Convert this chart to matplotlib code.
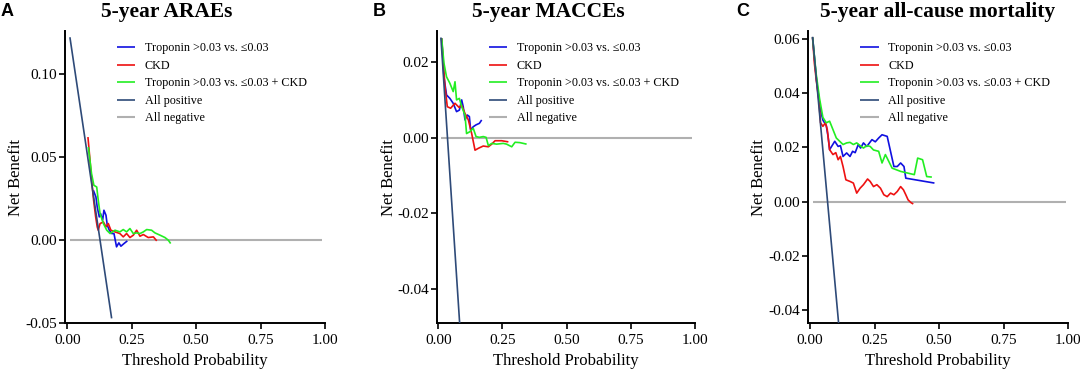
import numpy as np
import matplotlib
matplotlib.use("Agg")
import matplotlib.pyplot as plt
from matplotlib.ticker import FormatStrFormatter

plt.rcParams['font.family'] = ['Liberation Serif', 'DejaVu Serif']
plt.rcParams['axes.unicode_minus'] = False

# ==================== data ====================
labels = ['Troponin >0.03 vs. ≤0.03', 'CKD', 'Troponin >0.03 vs. ≤0.03 + CKD',
          'All positive', 'All negative']
colors = ['#1010e0', '#ee1111', '#22ee22', '#2e4a78', '#b0b0b0']

# --- A: 5-year ARAEs ---
a_all_x = [0.01, 0.172]
a_all_y = [0.122, -0.047]
a_none_x = [0.01, 0.99]
a_none_y = [0.0, 0.0]
a_blue_x = [0.101, 0.111, 0.116, 0.124, 0.129, 0.137, 0.142, 0.150, 0.155, 0.163, 0.172,
            0.181, 0.191, 0.200, 0.208, 0.220, 0.233]
a_blue_y = [0.030, 0.026, 0.020, 0.014, 0.016, 0.012, 0.018, 0.015, 0.009, 0.006, 0.004,
            0.004, -0.004, -0.0016, -0.0036, -0.002, -0.0004]
a_red_x = [0.080, 0.088, 0.095, 0.102, 0.110, 0.116, 0.120, 0.127, 0.140, 0.150, 0.159,
           0.169, 0.185, 0.204, 0.217, 0.230, 0.243, 0.256, 0.269, 0.282, 0.295, 0.314,
           0.334, 0.347]
a_red_y = [0.062, 0.048, 0.035, 0.024, 0.014, 0.008, 0.006, 0.010, 0.011, 0.008, 0.010,
           0.006, 0.005, 0.004, 0.002, 0.004, 0.0016, 0.003, 0.006, 0.0024, 0.0034, 0.0016,
           0.002, -0.0004]
a_green_x = [0.0815, 0.094, 0.103, 0.114, 0.120, 0.127, 0.140, 0.153, 0.166, 0.185, 0.204,
             0.217, 0.230, 0.243, 0.256, 0.269, 0.282, 0.295, 0.308, 0.327, 0.340, 0.360,
             0.379, 0.392, 0.401]
a_green_y = [0.056, 0.040, 0.033, 0.032, 0.024, 0.016, 0.010, 0.006, 0.004, 0.006, 0.005,
             0.0064, 0.005, 0.007, 0.004, 0.0044, 0.004, 0.005, 0.0064, 0.006, 0.0044, 0.003,
             0.0016, 0.0, -0.002]

# --- B: 5-year MACCEs ---
b_all_x = [0.01, 0.085]
b_all_y = [0.0265, -0.051]
b_none_x = [0.01, 0.99]
b_none_y = [0.0, 0.0]
b_blue_x = [0.013, 0.022, 0.032, 0.045, 0.058, 0.071, 0.082, 0.091, 0.097, 0.104, 0.113,
            0.121, 0.126, 0.136, 0.147, 0.160, 0.169]
b_blue_y = [0.0263, 0.016, 0.0113, 0.0104, 0.0091, 0.0069, 0.0073, 0.0100, 0.0082, 0.0047,
            0.0060, 0.0056, 0.0020, 0.0029, 0.0034, 0.0038, 0.0047]
b_red_x = [0.013, 0.026, 0.035, 0.048, 0.065, 0.081, 0.091, 0.104, 0.117, 0.130, 0.143,
           0.156, 0.175, 0.195, 0.208, 0.221, 0.247, 0.273]
b_red_y = [0.0263, 0.0135, 0.0082, 0.0078, 0.0091, 0.0080, 0.0086, 0.0064, 0.0047, 0.0011,
           -0.0033, -0.0028, -0.0022, -0.0024, -0.0017, -0.0008, -0.0008, -0.0011]
b_green_x = [0.013, 0.022, 0.032, 0.045, 0.058, 0.065, 0.071, 0.082, 0.091, 0.104, 0.110,
             0.123, 0.136, 0.147, 0.160, 0.175, 0.186, 0.195, 0.208, 0.227, 0.253, 0.266,
             0.286, 0.299, 0.318, 0.344]
b_green_y = [0.0263, 0.0197, 0.0161, 0.0144, 0.0122, 0.0148, 0.0100, 0.0104, 0.0082, 0.0060,
             0.0011, 0.0016, 0.0025, 0.0003, 0.0001, 0.0003, 0.0001, -0.0021, -0.0015,
             -0.0017, -0.0015, -0.0017, -0.0024, -0.0012, -0.0013, -0.0017]

# --- C: 5-year all-cause mortality ---
c_all_x = [0.01, 0.112]
c_all_y = [0.0607, -0.046]
c_none_x = [0.01, 0.99]
c_none_y = [0.0, 0.0]
c_blue_x = [0.010, 0.025, 0.040, 0.050, 0.063, 0.070, 0.076, 0.096, 0.109, 0.118, 0.128,
            0.142, 0.155, 0.165, 0.175, 0.187, 0.196, 0.207, 0.220, 0.240, 0.253, 0.266,
            0.279, 0.299, 0.325, 0.338, 0.351, 0.364, 0.371, 0.482]
c_blue_y = [0.0605, 0.045, 0.034, 0.030, 0.028, 0.024, 0.0191, 0.0222, 0.0203, 0.0206,
            0.0166, 0.0179, 0.0166, 0.0185, 0.0180, 0.0210, 0.0197, 0.0216, 0.0203, 0.0228,
            0.0220, 0.0234, 0.0246, 0.0240, 0.0129, 0.0129, 0.0142, 0.0129, 0.0086, 0.0068]
c_red_x = [0.010, 0.017, 0.024, 0.034, 0.041, 0.050, 0.060, 0.067, 0.076, 0.089, 0.100,
           0.109, 0.118, 0.128, 0.139, 0.155, 0.168, 0.181, 0.194, 0.207, 0.223, 0.233,
           0.246, 0.259, 0.273, 0.286, 0.299, 0.312, 0.325, 0.338, 0.351, 0.362, 0.371,
           0.380, 0.391, 0.400]
c_red_y = [0.0605, 0.051, 0.045, 0.0376, 0.029, 0.0277, 0.029, 0.0265, 0.0191, 0.0173,
           0.0180, 0.0154, 0.0166, 0.0129, 0.0080, 0.0074, 0.0068, 0.0031, 0.0049, 0.0062,
           0.0083, 0.0074, 0.0055, 0.0062, 0.0049, 0.0025, 0.0018, 0.0031, 0.0025, 0.0037,
           0.0055, 0.0043, 0.0025, 0.0006, -0.0004, -0.0009]
c_green_x = [0.010, 0.024, 0.037, 0.050, 0.063, 0.076, 0.089, 0.102, 0.115, 0.128, 0.142,
             0.155, 0.168, 0.181, 0.194, 0.207, 0.220, 0.233, 0.246, 0.266, 0.279, 0.292,
             0.305, 0.318, 0.351, 0.404, 0.417, 0.436, 0.452, 0.472]
c_green_y = [0.0605, 0.047, 0.038, 0.031, 0.029, 0.0296, 0.0265, 0.0234, 0.0222, 0.0210,
             0.0216, 0.0218, 0.0210, 0.0216, 0.0206, 0.0197, 0.0206, 0.0203, 0.0190, 0.0185,
             0.0142, 0.0173, 0.0148, 0.0123, 0.0111, 0.0099, 0.0160, 0.0154, 0.0092, 0.0090]

panels = [
    dict(letter='A', title='5-year ARAEs', rect=[0.0602, 0.126, 0.2407, 0.790],
         xlim=(-0.009, 1.0), ylim=(-0.05, 0.1257), yticks=[-0.05, 0.0, 0.05, 0.10],
         series=[(a_blue_x, a_blue_y), (a_red_x, a_red_y), (a_green_x, a_green_y),
                 (a_all_x, a_all_y), (a_none_x, a_none_y)],
         title_x=167, letter_x=1),
    dict(letter='B', title='5-year MACCEs', rect=[0.4049, 0.126, 0.2386, 0.790],
         xlim=(-0.004, 1.0), ylim=(-0.0491, 0.0282), yticks=[-0.04, -0.02, 0.0, 0.02],
         series=[(b_blue_x, b_blue_y), (b_red_x, b_red_y), (b_green_x, b_green_y),
                 (b_all_x, b_all_y), (b_none_x, b_none_y)],
         title_x=548, letter_x=373),
    dict(letter='C', title='5-year all-cause mortality', rect=[0.7484, 0.126, 0.2407, 0.790],
         xlim=(-0.0066, 1.0), ylim=(-0.0449, 0.0628), yticks=[-0.04, -0.02, 0.0, 0.02, 0.04, 0.06],
         series=[(c_blue_x, c_blue_y), (c_red_x, c_red_y), (c_green_x, c_green_y),
                 (c_all_x, c_all_y), (c_none_x, c_none_y)],
         title_x=938, letter_x=736),
]

W, H = 1080, 370
fig = plt.figure(figsize=(W / 100, H / 100), dpi=100)

for p in panels:
    ax = fig.add_axes(p['rect'])
    zorders = [3, 3, 3, 4, 1]
    for (xs, ys), col, lab, z in zip(p['series'], colors, labels, zorders):
        lw = 1.5 if lab == 'All negative' else 1.2
        ax.plot(xs, ys, color=col, lw=lw, label=lab, zorder=z, solid_capstyle='butt')
    ax.set_xlim(p['xlim'])
    ax.set_ylim(p['ylim'])
    ax.set_xticks([0, 0.25, 0.5, 0.75, 1.0])
    ax.set_yticks(p['yticks'])
    ax.xaxis.set_major_formatter(FormatStrFormatter('%.2f'))
    ax.yaxis.set_major_formatter(FormatStrFormatter('%.2f'))
    for s in ['top', 'right']:
        ax.spines[s].set_visible(False)
    for s in ['left', 'bottom']:
        ax.spines[s].set_linewidth(1.4)
    ax.tick_params(direction='out', length=4, width=1.2, labelsize=11, pad=2)
    ax.tick_params(axis='x', pad=4)
    ax.set_xlabel('Threshold Probability', fontsize=12, labelpad=4)
    ax.set_ylabel('Net Benefit', fontsize=12, labelpad=0.5)

    # legend order as in the original
    handles, labs = ax.get_legend_handles_labels()
    ax.legend(handles, labs, loc='upper left', bbox_to_anchor=(0.168, 0.99), frameon=False,
              fontsize=8.7, handlelength=1.5, handletextpad=0.8, labelspacing=0.45,
              borderaxespad=0.3)

    fig.text(p['title_x'] / W, 1 - 17 / H, p['title'], ha='center', va='baseline',
             fontsize=15.5, fontweight='bold')
    fig.text(p['letter_x'] / W, 1 - 16 / H, p['letter'], ha='left', va='baseline',
             fontsize=13, fontweight='bold', family=['Liberation Sans', 'DejaVu Sans'])

fig.savefig('out.png', dpi=100)
